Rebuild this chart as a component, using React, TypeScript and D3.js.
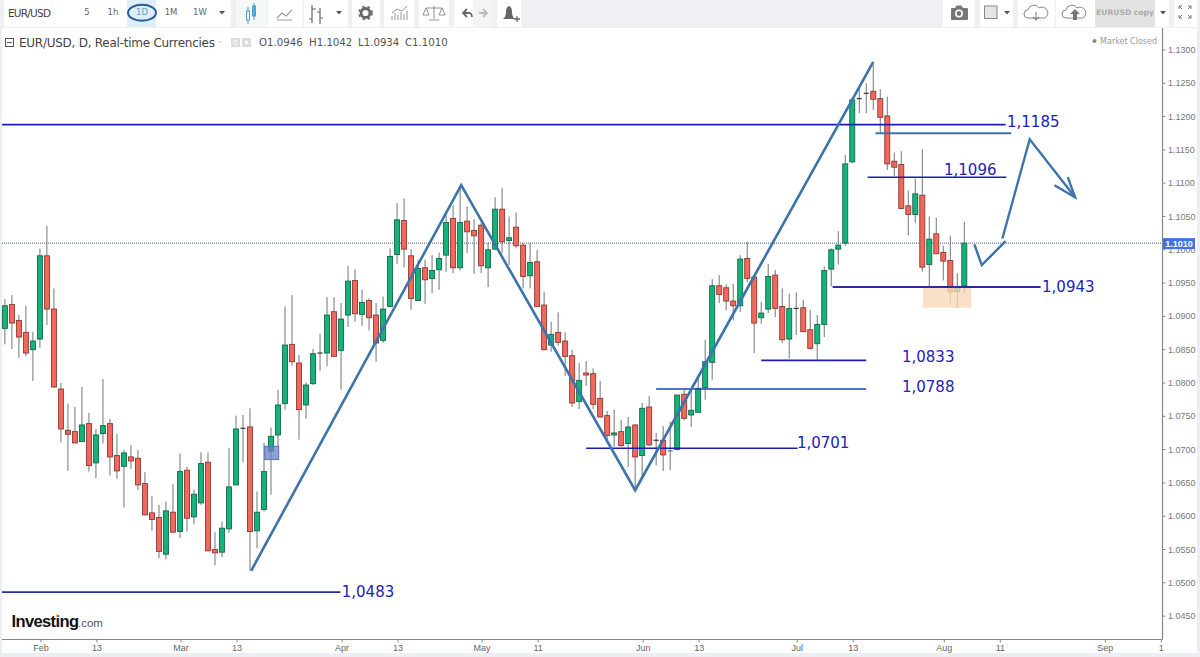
import React from "react";
import * as d3 from "d3";

const opens = [1.0882,1.0918,1.0894,1.0876,1.0850,1.0866,1.0991,1.0911,1.0791,1.0729,1.0727,1.0712,1.0739,1.0680,1.0724,1.0739,1.0691,1.0675,1.0689,1.0687,1.0649,1.0605,1.0598,1.0543,1.0606,1.0577,1.0669,1.0599,1.0620,1.0681,1.0550,1.0546,1.0581,1.0647,1.0732,1.0734,1.0578,1.0610,1.0698,1.0722,1.0769,1.0858,1.0830,1.0767,1.0799,1.0845,1.0845,1.0907,1.0849,1.0902,1.0954,1.0903,1.0924,1.0902,1.0864,1.0915,1.0993,1.1044,1.0991,1.0924,1.0973,1.0957,1.0970,1.0992,1.1047,1.0973,1.1043,1.1029,1.1037,1.0973,1.1001,1.1061,1.1014,1.1034,1.1007,1.0961,1.0982,1.0917,1.0857,1.0876,1.0863,1.0841,1.0772,1.0815,1.0814,1.0777,1.0751,1.0722,1.0727,1.0709,1.0737,1.0691,1.0764,1.0714,1.0714,1.0696,1.0700,1.0783,1.0752,1.0756,1.0793,1.0831,1.0946,1.0943,1.0923,1.0916,1.0987,1.0959,1.0898,1.0911,1.0962,1.0915,1.0866,1.0912,1.0913,1.0880,1.0859,1.0888,1.0971,1.1001,1.1010,1.1132,1.1227,1.1235,1.1238,1.1227,1.1201,1.1133,1.1128,1.1066,1.1053,1.1082,1.0978,1.1024,1.0996,1.0984,1.0937,1.0946];
const closes = [1.0916,1.0890,1.0869,1.0845,1.0863,1.0991,1.0911,1.0794,1.0731,1.0723,1.0710,1.0737,1.0676,1.0722,1.0736,1.0689,1.0668,1.0695,1.0683,1.0647,1.0602,1.0595,1.0547,1.0608,1.0576,1.0667,1.0597,1.0633,1.0679,1.0548,1.0545,1.0582,1.0644,1.0731,1.0731,1.0577,1.0606,1.0667,1.0720,1.0767,1.0857,1.0832,1.0760,1.0797,1.0844,1.0844,1.0902,1.0840,1.0896,1.0953,1.0904,1.0921,1.0898,1.0860,1.0911,1.0990,1.1045,1.1001,1.0927,1.0972,1.0955,1.0969,1.0987,1.1041,1.0973,1.1041,1.1027,1.1021,1.0976,1.1000,1.1061,1.1012,1.1018,1.1006,1.0960,1.0981,1.0915,1.0850,1.0873,1.0861,1.0840,1.0770,1.0804,1.0812,1.0768,1.0749,1.0721,1.0725,1.0706,1.0734,1.0689,1.0762,1.0707,1.0713,1.0692,1.0698,1.0782,1.0747,1.0759,1.0792,1.0832,1.0946,1.0933,1.0923,1.0916,1.0986,1.0957,1.0890,1.0905,1.0960,1.0912,1.0865,1.0912,1.0911,1.0877,1.0852,1.0888,1.0969,1.1000,1.1007,1.1129,1.1225,1.1226,1.1234,1.1226,1.1199,1.1129,1.1124,1.1062,1.1053,1.1084,1.0974,1.1016,1.0994,1.0983,1.0937,1.0943,1.1010];
const highs = [1.0926,1.0932,1.0902,1.0916,1.0877,1.1002,1.1036,1.0942,1.0800,1.0769,1.0764,1.0794,1.0755,1.0731,1.0806,1.0746,1.0724,1.0700,1.0707,1.0699,1.0666,1.0630,1.0617,1.0622,1.0648,1.0694,1.0674,1.0640,1.0696,1.0696,1.0576,1.0592,1.0702,1.0751,1.0752,1.0762,1.0637,1.0710,1.0733,1.0790,1.0915,1.0932,1.0842,1.0801,1.0851,1.0874,1.0929,1.0929,1.0920,1.0976,1.0971,1.0940,1.0927,1.0920,1.0930,1.1002,1.1070,1.1077,1.1001,1.0985,1.0985,1.0992,1.0996,1.1052,1.1067,1.1094,1.1065,1.1046,1.1040,1.1011,1.1079,1.1093,1.1050,1.1056,1.1010,1.1010,1.1000,1.0937,1.0892,1.0906,1.0876,1.0850,1.0830,1.0833,1.0822,1.0803,1.0758,1.0760,1.0745,1.0749,1.0738,1.0770,1.0780,1.0725,1.0735,1.0742,1.0782,1.0790,1.0790,1.0810,1.0865,1.0956,1.0962,1.0948,1.0949,1.0992,1.1012,1.0959,1.0922,1.0979,1.0970,1.0942,1.0934,1.0936,1.0925,1.0910,1.0902,1.0975,1.1002,1.1028,1.1142,1.1229,1.1241,1.1250,1.1278,1.1241,1.1230,1.1146,1.1148,1.1089,1.1107,1.1151,1.1050,1.1048,1.1006,1.1021,1.0965,1.1042];
const lows = [1.0858,1.0851,1.0838,1.0840,1.0803,1.0853,1.0887,1.0793,1.0711,1.0668,1.0710,1.0712,1.0667,1.0657,1.0709,1.0661,1.0656,1.0613,1.0671,1.0639,1.0601,1.0578,1.0537,1.0535,1.0576,1.0567,1.0577,1.0588,1.0617,1.0548,1.0526,1.0539,1.0575,1.0647,1.0681,1.0518,1.0552,1.0607,1.0632,1.0704,1.0760,1.0826,1.0715,1.0746,1.0797,1.0818,1.0825,1.0839,1.0790,1.0884,1.0892,1.0886,1.0879,1.0832,1.0860,1.0914,1.0979,1.0974,1.0910,1.0924,1.0919,1.0935,1.0940,1.0967,1.0965,1.0969,1.0995,1.0964,1.0965,1.0944,1.1000,1.0995,1.0977,1.1002,1.0942,1.0942,1.0914,1.0849,1.0847,1.0856,1.0811,1.0764,1.0761,1.0796,1.0761,1.0748,1.0715,1.0704,1.0704,1.0674,1.0644,1.0659,1.0706,1.0676,1.0668,1.0669,1.0699,1.0744,1.0734,1.0756,1.0775,1.0805,1.0920,1.0909,1.0894,1.0907,1.0951,1.0845,1.0889,1.0905,1.0899,1.0860,1.0837,1.0872,1.0877,1.0850,1.0835,1.0869,1.0945,1.0978,1.1006,1.1130,1.1205,1.1205,1.1210,1.1176,1.1120,1.1111,1.1061,1.1022,1.1040,1.0967,1.0945,1.0994,1.0954,1.0920,1.0913,1.0934];

const priceTicks = d3.range(0, 18).map((k) => +(1.045 + k * 0.005).toFixed(4));
const dateTickBars = [5, 13, 25, 33, 48, 56, 68, 76, 91, 99, 113, 121, 134, 142, 157, 165];
const dateTickLabels = ["Feb", "13", "Mar", "13", "Apr", "13", "May", "11", "Jun", "13", "Jul", "13", "Aug", "11", "Sep", "1"];

// horizontal levels: start bar, end bar, price
const levelStart = [-0.4, 123.2, 118.2, 108, 93, 83, -0.4];
const levelEnd = [142.9, 143, 147.9, 123, 123, 113.2, 47.9];
const levelPrice = [1.1188, 1.1109, 1.0944, 1.0834, 1.0791, 1.0702, 1.0486];
const levelWidth = [1.7, 1.6, 2, 1.7, 1.5, 1.7, 1.8];
const levelColor = ["#1c1cb4", "#1c1cb4", "#2b2b9e", "#1c1cb4", "#1f3fc0", "#1c1cb4", "#262a9c"];
// labels
const labelText = ["1,1185", "1,1096", "1,0943", "1,0833", "1,0788", "1,0701", "1,0483"];
const labelBar = [143.1, 134.1, 148.1, 128.1, 128.1, 113.1, 48.1];
const labelPrice = [1.1184, 1.1112, 1.0937, 1.0831, 1.0786, 1.0703, 1.0479];

const zigzag: [number, number][] = [[35.16, 1.0518], [65.16, 1.1097], [90, 1.0639], [124, 1.1282]];
const smallV: [number, number][] = [[138.44, 1.1008], [139.49, 1.0977], [142.9, 1.1013]];
const bigArrow: [number, number][] = [[142.44, 1.1017], [146.34, 1.1166], [152.82, 1.1079]];
const arrowHead: [number, number][] = [[151.77, 1.1109], [152.82, 1.1079], [149.87, 1.1097]];
const steelLine: [number, number][] = [[124.3, 1.1175], [143.7, 1.1175]];

const W = 1200, H = 657;
const AXIS_X = 1162.5, AXIS_Y = 639.5;

const intervalLabels = ["5", "1h", "1D", "1M", "1W"];
const intervalX = [87, 113, 142, 171, 200];

export default function App() {
  const x = d3.scaleLinear().domain([0, 137]).range([4.9, 964.3]);
  const y = d3.scaleLinear().domain([1.13, 1.045]).range([50, 616.1]);
  const line = d3.line<[number, number]>().x((d) => x(d[0])).y((d) => y(d[1]));
  const blue = "#3d74ab";
  const sans = "'DejaVu Sans', sans-serif";
  const arial = "'Liberation Sans', Arial, sans-serif";
  const last = closes[closes.length - 1];

  const btn = (bx: number, bw: number, fill = "#fff") => (
    <rect key={"b" + bx} x={bx} y={0} width={bw} height={27} fill={fill} />
  );
  const caret = (cx: number) => <path key={"c" + cx} d={`M${cx - 3},11 h6 l-3,3.5 z`} fill="#555" />;

  return (
    <svg width={W} height={H} viewBox={`0 0 ${W} ${H}`} style={{ position: "absolute", left: 0, top: 0, background: "#fff" }}>
      {/* chrome */}
      <rect x={0} y={0} width={W} height={28} fill="#eff0f3" />
      <rect x={0} y={653} width={W} height={4} fill="#eceef1" />
      <rect x={0} y={28} width={2} height={H - 28} fill="#eceef1" />
      <rect x={1197} y={28} width={3} height={H - 28} fill="#eceef1" />

      {btn(4, 71)}
      {btn(75, 26)}{btn(101, 26)}{btn(127, 29, "#dcEff8")}{btn(156, 30)}{btn(186, 28)}{btn(214, 17)}
      {btn(236, 31, "#f6f7f8")}{btn(268, 35)}{btn(304, 26)}{btn(330, 18)}
      {btn(352, 28)}{btn(384, 30)}{btn(419, 30)}{btn(454, 19)}{btn(473, 19, "#f4f4f4")}{btn(497, 24)}
      {btn(943, 32)}{btn(980, 33)}{btn(1018, 37)}{btn(1056, 39)}{btn(1095, 60, "#e3e3e3")}{btn(1155, 14)}{btn(1174, 23)}

      <text x={8} y={16.5} fontFamily={sans} fontSize={10.5} fill="#444" textLength={43}>EUR/USD</text>
      {intervalLabels.map((t, i) => (
        <text key={t} x={intervalX[i]} y={15} textAnchor="middle" fontFamily={sans} fontSize={8.5}
          fill={t === "1D" ? "#5aa6c8" : "#666"}>{t}</text>
      ))}
      <ellipse cx={142} cy={12.8} rx={14} ry={8} fill="none" stroke="#2b5d94" strokeWidth={2} />
      {caret(222)}{caret(339)}{caret(1007)}{caret(1163)}

      {/* toolbar icons */}
      <g fill="none" stroke="#4aa0c8" strokeWidth={1}>
        <path d="M248,7 v17 M254,3 v17" />
        <rect x={246.5} y={11} width={3} height={9} fill="#fff" />
        <rect x={252.5} y={6} width={3} height={10} fill="#4fb0d8" />
      </g>
      <path d="M277,18 l5,-5 l4,3 l6,-6 M277,20 h15" fill="none" stroke="#999" strokeWidth={1.1} />
      <path d="M312,5 v18 M312,9 h4 M309,19 h3 M320,8 v16 M320,12 h-3 M320,18 h3" fill="none" stroke="#666" strokeWidth={1.2} />
      <circle cx={365.5} cy={13} r={4.5} fill="none" stroke="#666" strokeWidth={2.8} />
      <circle cx={365.5} cy={13} r={6.6} fill="none" stroke="#666" strokeWidth={1.5} strokeDasharray="2.5 3" />
      <path d="M392,20 v-4 M395,20 v-7 M398,20 v-5 M401,20 v-8 M404,20 v-6 M407,20 v-9 M392,13 l5,-4 l5,2 l5,-5" fill="none" stroke="#888" strokeWidth={0.9} />
      <path d="M434,6 v13 M429,20 h10 M426,8 h16 M426,8 l-3,7 h6 z M442,8 l-3,7 h6 z" fill="none" stroke="#888" strokeWidth={0.9} />
      <path d="M470,13 h-6 M467,9 l-4,4 l4,4 M470,13 q2,1 2,4" fill="none" stroke="#666" strokeWidth={1.8} />
      <path d="M479,13 h7 M483,9 l4,4 l-4,4" fill="none" stroke="#bbb" strokeWidth={1.8} />
      <path d="M503,19 q3,-2 3,-7 q0,-5 3,-6 q3,1 3,6 q0,5 3,7 z" fill="#666" />
      <path d="M514,19 h6 M517,16 v6" stroke="#666" strokeWidth={1.3} />
      <path d="M951,8 h4 l1.5,-2.5 h5 l1.5,2.5 h4 a1,1 0 0 1 1,1 v10 a1,1 0 0 1 -1,1 h-15 a1,1 0 0 1 -1,-1 v-10 a1,1 0 0 1 1,-1 z" fill="#777" />
      <circle cx={959} cy={13.5} r={3.2} fill="none" stroke="#fff" strokeWidth={1.6} />
      <rect x={984.5} y={6} width={12.5} height={12.5} fill="#e4e4e4" stroke="#888" />
      <path d="M1028,18 a4,4 0 0 1 0,-8 a6,6 0 0 1 11,-2 a5,5 0 0 1 6,10 z" fill="none" stroke="#888" />
      <path d="M1036,12 v8 M1033,17 l3,3 l3,-3" fill="none" stroke="#888" strokeWidth={1.1} />
      <path d="M1066,18 a4,4 0 0 1 0,-8 a6,6 0 0 1 11,-2 a5,5 0 0 1 6,10 z" fill="none" stroke="#888" />
      <path d="M1070,14 l5,-5 l5,5 h-3 v6 h-4 v-6 z" fill="#777" />
      <text x={1125} y={15} textAnchor="middle" fontFamily={sans} fontSize={7.6} fontWeight="bold" fill="#aaa">EURUSD copy</text>
      <path d="M1179,6 l3,3 m-3,-3 h3 m-3,0 v3 M1191,6 l-3,3 m3,-3 h-3 m3,0 v3 M1179,18 l3,-3 m-3,3 h3 m-3,0 v-3 M1191,18 l-3,-3 m3,3 h-3 m3,0 v-3" fill="none" stroke="#777" />

      {/* header */}
      <rect x={5.5} y={38.5} width={8} height={8} fill="none" stroke="#555" />
      <path d="M7,42.5 h5" stroke="#555" />
      <text x={19} y={46.5} fontFamily={sans} fontSize={12} fill="#444" textLength={196}>EUR/USD, D, Real-time Currencies</text>
      <path d="M218,41 l4,0 l-2,2.5 z" fill="#ddd" />
      <rect x={231} y={38} width={9} height={9} fill="#ddd" />
      <rect x={242} y={38} width={9} height={9} fill="#ddd" />
      <circle cx={235.5} cy={42.5} r={2} fill="none" stroke="#fff" />
      <rect x={245} y={41} width={3} height={3} fill="#fff" />
      <text x={259} y={46} fontFamily={sans} fontSize={10.2} fill="#555">O1.0946</text>
      <text x={309} y={46} fontFamily={sans} fontSize={10.2} fill="#555">H1.1042</text>
      <text x={358} y={46} fontFamily={sans} fontSize={10.2} fill="#555">L1.0934</text>
      <text x={405} y={46} fontFamily={sans} fontSize={10.2} fill="#555">C1.1010</text>
      <circle cx={1094.5} cy={41} r={2} fill="#888" />
      <text x={1157} y={44} textAnchor="end" fontFamily={sans} fontSize={8} fill="#999">Market Closed</text>

      {/* last price line */}
      <line x1={2} x2={AXIS_X} y1={y(last)} y2={y(last)} stroke="#3f5f96" strokeWidth={1} strokeDasharray="1 1" />

      {/* candles */}
      {opens.map((o, i) => {
        const c = closes[i];
        const up = c >= o;
        const top = y(Math.max(o, c));
        const bot = y(Math.min(o, c));
        const doji = bot - top < 1.5;
        return (
          <g key={i}>
            <line x1={x(i)} x2={x(i)} y1={y(highs[i])} y2={y(lows[i])} stroke="#6f7874" strokeWidth={1} />
            {doji ? (
              <line x1={x(i) - 2.5} x2={x(i) + 2.5} y1={top} y2={top} stroke={up ? "#6b7a70" : "#333"} strokeWidth={1.2} />
            ) : (
              <rect x={x(i) - 2.5} y={top} width={5} height={bot - top}
                fill={up ? "#13b37a" : "#f3685c"} stroke={up ? "#17664c" : "#8a3a34"} strokeWidth={0.9} />
            )}
          </g>
        );
      })}

      {/* highlight boxes */}
      <rect x={x(131.1)} y={y(1.0945)} width={x(138) - x(131.1)} height={y(1.0913) - y(1.0945)} fill="#f8d8b8" opacity={0.8} />
      <rect x={x(37.1)} y={y(1.0705)} width={x(39.1) - x(37.1)} height={y(1.0685) - y(1.0705)} fill="#6a80c8" fillOpacity={0.75} stroke="#5b74b8" />

      {/* drawings */}
      {levelPrice.map((p, i) => (
        <line key={i} x1={x(levelStart[i])} x2={x(levelEnd[i])} y1={y(p)} y2={y(p)} stroke={levelColor[i]} strokeWidth={levelWidth[i]} />
      ))}
      <path d={line(steelLine)!} fill="none" stroke={blue} strokeWidth={2} />
      <path d={line(zigzag)!} fill="none" stroke={blue} strokeWidth={2.6} />
      <path d={line(smallV)!} fill="none" stroke={blue} strokeWidth={2.4} />
      <path d={line(bigArrow)!} fill="none" stroke={blue} strokeWidth={2.4} />
      <path d={line(arrowHead)!} fill="none" stroke={blue} strokeWidth={2.4} />
      {labelText.map((t, i) => (
        <text key={t} x={x(labelBar[i])} y={y(labelPrice[i])} fontFamily={sans} fontSize={15} fill="#2222b8">{t}</text>
      ))}

      {/* axes */}
      <line x1={2} x2={AXIS_X} y1={AXIS_Y} y2={AXIS_Y} stroke="#888" strokeWidth={1.2} />
      <line x1={AXIS_X} x2={AXIS_X} y1={28} y2={AXIS_Y} stroke="#888" strokeWidth={1.2} />
      {priceTicks.map((t) => (
        <g key={t}>
          <line x1={AXIS_X} x2={AXIS_X + 3} y1={y(t)} y2={y(t)} stroke="#888" />
          <text x={1168} y={y(t) + 3} fontFamily={arial} fontSize={9} fill="#777">{t.toFixed(4)}</text>
        </g>
      ))}
      {dateTickBars.map((b, i) => (
        <g key={i}>
          <line x1={x(b) + 1} x2={x(b) + 1} y1={AXIS_Y} y2={AXIS_Y + 3} stroke="#888" />
          <text x={x(b) + 1} y={650.5} textAnchor="middle" fontFamily={arial} fontSize={9} fill="#666">{dateTickLabels[i]}</text>
        </g>
      ))}
      <rect x={1163} y={y(last) - 5} width={32} height={11} fill="#3f72e0" />
      <text x={1179} y={y(last) + 3.5} textAnchor="middle" fontFamily={arial} fontSize={9} fontWeight="bold" fill="#fff">{last.toFixed(4)}</text>

      {/* logo */}
      <text x={11.5} y={627} fontFamily={arial} fontSize={16.5} fontWeight="bold" fill="#111" textLength={67} letterSpacing={-0.5}>Investing</text>
      <text x={78} y={627} fontFamily={arial} fontSize={11.5} fill="#555">.com</text>
      <circle cx={57} cy={615.5} r={1.2} fill="#f0b030" />
    </svg>
  );
}
